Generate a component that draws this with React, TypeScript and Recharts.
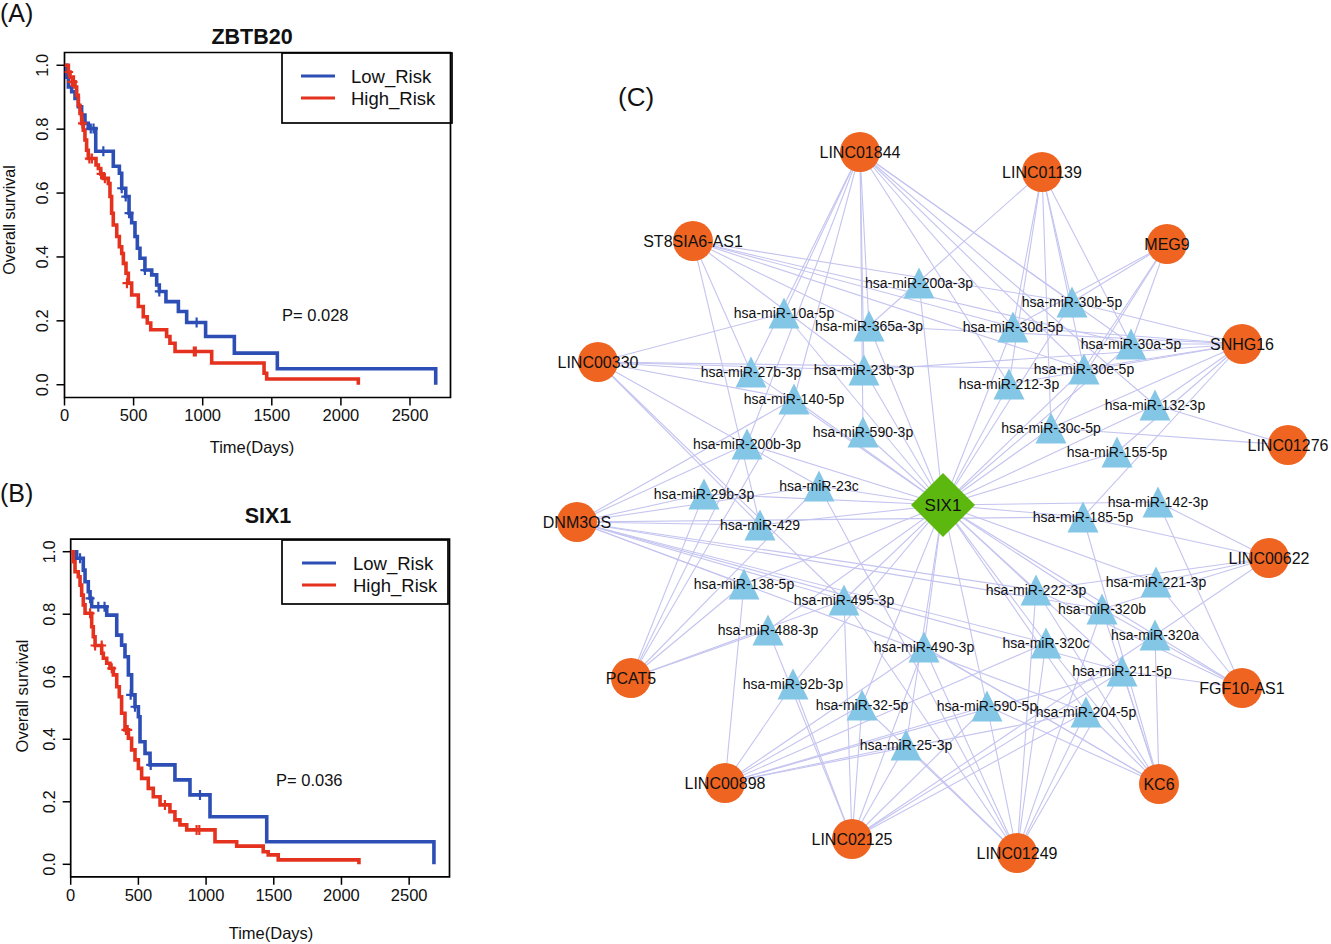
import React from 'react';
import { ComposedChart, ScatterChart, Line, Scatter, XAxis, YAxis, ReferenceArea } from 'recharts';

const FONT = '"Liberation Sans", Arial, Helvetica, sans-serif';
const BLUE = '#2C4EB5';
const RED = '#E4321F';
const ORANGE = '#EE6420';
const SKY = '#84C6E6';
const GREEN = '#5CB80F';
const EDGE = '#C4C4F0';

// ---------- Kaplan-Meier data ----------
const timeTicks = [0, 500, 1000, 1500, 2000, 2500];
const survTicks = [0, 0.2, 0.4, 0.6, 0.8, 1.0];

// (A) ZBTB20
const zbtbLowT = [0, 16, 28, 52, 76, 100, 124, 148, 172, 226, 353, 397, 414, 443, 467, 486, 510, 527, 546, 582, 631, 667, 686, 734, 824, 884, 1021, 1229, 1540, 2686];
const zbtbLowS = [1.0, 0.963, 0.932, 0.917, 0.896, 0.87, 0.844, 0.818, 0.802, 0.731, 0.684, 0.662, 0.615, 0.589, 0.537, 0.507, 0.464, 0.427, 0.396, 0.359, 0.344, 0.312, 0.292, 0.26, 0.229, 0.195, 0.151, 0.099, 0.05, 0.0];
const zbtbLowCensT = [190, 210, 281, 414, 443, 467, 582, 686, 956];
const zbtbLowCensS = [0.802, 0.802, 0.731, 0.615, 0.589, 0.537, 0.359, 0.292, 0.195];
const zbtbHighT = [0, 28, 40, 64, 76, 88, 100, 112, 124, 136, 148, 160, 172, 228, 245, 262, 281, 317, 329, 341, 353, 378, 397, 414, 426, 445, 462, 486, 534, 570, 599, 624, 739, 763, 800, 1065, 1444, 1463, 2126];
const zbtbHighS = [1.0, 0.979, 0.963, 0.948, 0.932, 0.906, 0.875, 0.849, 0.818, 0.797, 0.766, 0.734, 0.708, 0.688, 0.677, 0.66, 0.646, 0.63, 0.589, 0.537, 0.5, 0.464, 0.432, 0.411, 0.38, 0.349, 0.318, 0.281, 0.245, 0.213, 0.193, 0.172, 0.151, 0.13, 0.104, 0.068, 0.036, 0.018, 0.0];
const zbtbHighCensT = [30, 52, 62, 130, 180, 198, 265, 292, 452, 936, 950];
const zbtbHighCensS = [0.979, 0.948, 0.948, 0.818, 0.708, 0.708, 0.66, 0.646, 0.318, 0.104, 0.104];

// (B) SIX1
const sixLowT = [0, 44, 93, 106, 130, 143, 155, 266, 340, 376, 401, 426, 450, 475, 500, 512, 549, 586, 770, 881, 1029, 1448, 2683];
const sixLowS = [1.0, 0.979, 0.941, 0.904, 0.872, 0.851, 0.824, 0.797, 0.733, 0.701, 0.664, 0.606, 0.542, 0.504, 0.472, 0.392, 0.355, 0.318, 0.27, 0.222, 0.152, 0.072, 0.0];
const sixLowCensT = [69, 143, 204, 250, 443, 475, 591, 955];
const sixLowCensS = [0.979, 0.851, 0.824, 0.824, 0.542, 0.504, 0.318, 0.222];
const sixHighT = [0, 19, 32, 56, 69, 81, 93, 106, 155, 167, 180, 229, 241, 266, 290, 315, 340, 359, 376, 401, 426, 450, 475, 500, 524, 573, 610, 660, 733, 770, 807, 857, 1066, 1226, 1422, 1459, 1533, 2129];
const sixHighS = [1.0, 0.968, 0.936, 0.92, 0.893, 0.861, 0.83, 0.803, 0.76, 0.728, 0.7, 0.675, 0.659, 0.643, 0.627, 0.606, 0.568, 0.536, 0.483, 0.43, 0.403, 0.366, 0.334, 0.307, 0.275, 0.243, 0.216, 0.19, 0.168, 0.142, 0.126, 0.11, 0.072, 0.058, 0.04, 0.03, 0.014, 0.0];
const sixHighCensT = [143, 180, 229, 303, 408, 421, 696, 930, 950];
const sixHighCensS = [0.803, 0.7, 0.7, 0.627, 0.43, 0.43, 0.19, 0.11, 0.11];

// ---------- Network data ----------
const lncNames = ['LINC01844', 'ST8SIA6-AS1', 'LINC00330', 'DNM3OS', 'PCAT5', 'LINC00898', 'LINC02125', 'LINC01249', 'KC6', 'FGF10-AS1', 'LINC00622', 'LINC01276', 'SNHG16', 'MEG9', 'LINC01139'];
const lncX = [860, 693, 598, 577, 631, 725, 852, 1017, 1159, 1242, 1269, 1288, 1242, 1167, 1042];
const lncY = [152, 241, 362, 522, 678, 783, 839, 853, 784, 688, 558, 445, 344, 244, 172];

const mirNames = ['hsa-miR-10a-5p', 'hsa-miR-365a-3p', 'hsa-miR-200a-3p', 'hsa-miR-27b-3p', 'hsa-miR-23b-3p', 'hsa-miR-140-5p', 'hsa-miR-590-3p', 'hsa-miR-200b-3p', 'hsa-miR-29b-3p', 'hsa-miR-23c', 'hsa-miR-429', 'hsa-miR-138-5p', 'hsa-miR-495-3p', 'hsa-miR-488-3p', 'hsa-miR-92b-3p', 'hsa-miR-32-5p', 'hsa-miR-25-3p', 'hsa-miR-490-3p', 'hsa-miR-590-5p', 'hsa-miR-204-5p', 'hsa-miR-320c', 'hsa-miR-211-5p', 'hsa-miR-222-3p', 'hsa-miR-320b', 'hsa-miR-221-3p', 'hsa-miR-320a', 'hsa-miR-185-5p', 'hsa-miR-142-3p', 'hsa-miR-30b-5p', 'hsa-miR-30d-5p', 'hsa-miR-30a-5p', 'hsa-miR-30e-5p', 'hsa-miR-212-3p', 'hsa-miR-132-3p', 'hsa-miR-30c-5p', 'hsa-miR-155-5p'];
const mirX = [784, 869, 919, 751, 864, 794, 863, 747, 704, 819, 760, 744, 844, 768, 793, 862, 906, 924, 987, 1086, 1046, 1122, 1036, 1102, 1156, 1155, 1083, 1158, 1072, 1013, 1131, 1084, 1009, 1155, 1051, 1117];
const mirY = [313, 326, 283, 372, 370, 399, 432, 444, 494, 486, 525, 584, 600, 630, 684, 705, 745, 647, 706, 712, 643, 671, 590, 609, 582, 635, 517, 502, 302, 327, 344, 369, 384, 405, 428, 452];

const hubName = 'SIX1';
const hubX = 943;
const hubY = 505;

// lncRNA -> miRNA targets (short miRNA ids)
const targetsLINC01844 = ['10a-5p', '27b-3p', '140-5p', '200b-3p', '365a-3p', '23b-3p', '590-3p', '30d-5p', '30b-5p', '30a-5p', '30e-5p', '212-3p', '132-3p'];
const targetsST8SIA6 = ['27b-3p', '429', '365a-3p', '23b-3p', '30d-5p', '30b-5p', '30a-5p', '30e-5p'];
const targetsLINC00330 = ['10a-5p', '27b-3p', '140-5p', '23b-3p', '30e-5p', '23c', '429', '495-3p'];
const targetsDNM3OS = ['29b-3p', '200b-3p', '140-5p', '23c', '429', '138-5p', '495-3p', '222-3p', '320b', '320c', '185-5p', '211-5p', '204-5p'];
const targetsPCAT5 = ['200b-3p', '140-5p', '29b-3p', '138-5p', '488-3p', '495-3p', '23c'];
const targetsLINC00898 = ['138-5p', '92b-3p', '32-5p', '25-3p', '490-3p', '590-5p', '320c', '204-5p', '211-5p'];
const targetsLINC02125 = ['92b-3p', '488-3p', '32-5p', '495-3p', '25-3p', '490-3p', '590-5p', '204-5p', '211-5p', '320a'];
const targetsLINC01249 = ['23c', '495-3p', '490-3p', '25-3p', '32-5p', '590-5p', '320c', '222-3p', '204-5p', '211-5p', '320b'];
const targetsKC6 = ['204-5p', '211-5p', '320a', '320b', '320c', '222-3p', '590-5p', '490-3p', '185-5p', '495-3p'];
const targetsFGF10AS1 = ['142-3p', '221-3p', '320a', '320b', '211-5p', '222-3p'];
const targetsLINC00622 = ['142-3p', '221-3p', '222-3p', '320b', '320a', '185-5p'];
const targetsLINC01276 = ['132-3p', '30c-5p'];
const targetsSNHG16 = ['30a-5p', '30b-5p', '30d-5p', '30e-5p', '212-3p', '30c-5p', '132-3p', '155-5p', '23b-3p', '365a-3p', '185-5p'];
const targetsMEG9 = ['30b-5p', '30d-5p', '30a-5p', '30e-5p', '30c-5p'];
const targetsLINC01139 = ['365a-3p', '212-3p', '30d-5p', '30c-5p', '30b-5p', '30e-5p', '30a-5p'];
const lncTargets = [targetsLINC01844, targetsST8SIA6, targetsLINC00330, targetsDNM3OS, targetsPCAT5, targetsLINC00898, targetsLINC02125, targetsLINC01249, targetsKC6, targetsFGF10AS1, targetsLINC00622, targetsLINC01276, targetsSNHG16, targetsMEG9, targetsLINC01139];

// ---------- helpers ----------
const toRows = (t: number[], s: number[]) => t.map((v, i) => ({ t: v, s: s[i] }));

const XTick = (props: any) => {
  const { x, y, payload } = props;
  return (
    <text x={x} y={y} dy="0.71em" textAnchor="middle" fontSize={16.5} fontFamily={FONT} fill="#111">
      {payload.value}
    </text>
  );
};

const YTick = (props: any) => {
  const { x, y, payload } = props;
  return (
    <text x={x} y={y} transform={`rotate(-90 ${x} ${y})`} textAnchor="middle" fontSize={16.5} fontFamily={FONT} fill="#111">
      {Number(payload.value).toFixed(1)}
    </text>
  );
};

const plusShape = (color: string) => (p: any) => (
  <path d={`M${p.cx - 4.5},${p.cy}h9M${p.cx},${p.cy - 5}v10`} stroke={color} strokeWidth={2.2} fill="none" />
);

type KMProps = {
  left: number; top: number; width: number; height: number;
  margin: { top: number; right: number; bottom: number; left: number };
  xMax: number;
  lowT: number[]; lowS: number[]; highT: number[]; highS: number[];
  lowCT: number[]; lowCS: number[]; highCT: number[]; highCS: number[];
};

function KMPanel(pr: KMProps) {
  const low = toRows(pr.lowT, pr.lowS);
  const high = toRows(pr.highT, pr.highS);
  const lowC = toRows(pr.lowCT, pr.lowCS);
  const highC = toRows(pr.highCT, pr.highCS);
  return (
    <div style={{ position: 'absolute', left: pr.left, top: pr.top }}>
      <ComposedChart width={pr.width} height={pr.height} margin={pr.margin}>
        <XAxis dataKey="t" type="number" domain={[0, pr.xMax]} ticks={timeTicks} interval={0} allowDataOverflow
          axisLine={false} tickLine={{ stroke: '#000', strokeWidth: 1.5 }} tickSize={8} tickMargin={4} tick={XTick} height={40} />
        <YAxis dataKey="s" type="number" domain={[-0.04, 1.04]} ticks={survTicks} interval={0} allowDataOverflow
          axisLine={false} tickLine={{ stroke: '#000', strokeWidth: 1.5 }} tickSize={8} tickMargin={8} tick={YTick} width={40} />
        <ReferenceArea x1={0} x2={pr.xMax} y1={-0.04} y2={1.04} fill="none" fillOpacity={0} stroke="#000" strokeWidth={1.7} ifOverflow="visible" />
        <Line data={low} dataKey="s" type="stepAfter" stroke={BLUE} strokeWidth={3.6} dot={false} isAnimationActive={false} />
        <Line data={high} dataKey="s" type="stepAfter" stroke={RED} strokeWidth={3.6} dot={false} isAnimationActive={false} />
        <Scatter data={lowC} dataKey="s" shape={plusShape(BLUE)} isAnimationActive={false} />
        <Scatter data={highC} dataKey="s" shape={plusShape(RED)} isAnimationActive={false} />
      </ComposedChart>
    </div>
  );
}

// ---------- network ----------
const nothing = () => <g />;
const circleShape = (p: any) => <circle cx={p.cx} cy={p.cy} r={20} fill={ORANGE} />;
const triShape = (p: any) => (
  <polygon points={`${p.cx},${p.cy - 15.5} ${p.cx - 15.5},${p.cy + 15.5} ${p.cx + 15.5},${p.cy + 15.5}`} fill={SKY} />
);
const diamondShape = (p: any) => (
  <polygon points={`${p.cx},${p.cy - 32} ${p.cx + 32},${p.cy} ${p.cx},${p.cy + 32} ${p.cx - 32},${p.cy}`} fill={GREEN} />
);
const labelShape = (size: number) => (p: any) => (
  <text x={p.cx} y={p.cy} dy="0.36em" textAnchor="middle" fontSize={size} fontFamily={FONT} fill="#111">
    {p.payload.name}
  </text>
);

function Network() {
  const lncNodes = lncNames.map((n, i) => ({ name: n, x: lncX[i], y: lncY[i] }));
  const mirNodes = mirNames.map((n, i) => ({ name: n, x: mirX[i], y: mirY[i] }));
  const hub = [{ name: hubName, x: hubX, y: hubY }];
  const mirIndex: Record<string, number> = {};
  mirNames.forEach((n, i) => { mirIndex[n.replace('hsa-miR-', '')] = i; });
  const edges: { a: any; b: any }[] = [];
  mirNodes.forEach((m) => edges.push({ a: hub[0], b: m }));
  lncTargets.forEach((ts, li) => {
    ts.forEach((t) => {
      const mi = mirIndex[t];
      if (mi !== undefined) edges.push({ a: lncNodes[li], b: mirNodes[mi] });
    });
  });
  return (
    <div style={{ position: 'absolute', left: 520, top: 60 }}>
      <ScatterChart width={811} height={884} margin={{ top: 0, right: 0, bottom: 0, left: 0 }}>
        <XAxis dataKey="x" type="number" domain={[520, 1331]} hide height={0} allowDataOverflow />
        <YAxis dataKey="y" type="number" domain={[60, 944]} reversed hide width={0} allowDataOverflow />
        {edges.map((e, i) => (
          <Scatter key={'e' + i} data={[e.a, e.b]} line={{ stroke: EDGE, strokeWidth: 1.1 }} lineType="joint" shape={nothing} isAnimationActive={false} />
        ))}
        <Scatter data={lncNodes} shape={circleShape} isAnimationActive={false} />
        <Scatter data={mirNodes} shape={triShape} isAnimationActive={false} />
        <Scatter data={hub} shape={diamondShape} isAnimationActive={false} />
        <Scatter data={mirNodes} shape={labelShape(14)} isAnimationActive={false} />
        <Scatter data={lncNodes} shape={labelShape(16)} isAnimationActive={false} />
        <Scatter data={hub} shape={labelShape(17)} isAnimationActive={false} />
      </ScatterChart>
    </div>
  );
}

function Legend({ x, y, w, h, lineX, y1, y2, textX, b1, b2 }: any) {
  return (
    <g fontFamily={FONT} fontSize={18.5} fill="#111">
      <rect x={x} y={y} width={w} height={h} fill="none" stroke="#000" strokeWidth={1.7} />
      <line x1={lineX} x2={lineX + 34} y1={y1} y2={y1} stroke={BLUE} strokeWidth={3} />
      <line x1={lineX} x2={lineX + 34} y1={y2} y2={y2} stroke={RED} strokeWidth={3} />
      <text x={textX} y={b1}>Low_Risk</text>
      <text x={textX} y={b2}>High_Risk</text>
    </g>
  );
}

export default function App() {
  return (
    <div style={{ position: 'absolute', left: 0, top: 0, width: 1331, height: 944, background: '#fff', overflow: 'hidden' }}>
      <KMPanel left={0} top={0} width={460} height={470}
        margin={{ top: 52.5, right: 9.5, bottom: 32.5, left: 24.5 }} xMax={2793}
        lowT={zbtbLowT} lowS={zbtbLowS} highT={zbtbHighT} highS={zbtbHighS}
        lowCT={zbtbLowCensT} lowCS={zbtbLowCensS} highCT={zbtbHighCensT} highCS={zbtbHighCensS} />
      <KMPanel left={0} top={480} width={460} height={464}
        margin={{ top: 59.2, right: 10.5, bottom: 27.2, left: 30.7 }} xMax={2798}
        lowT={sixLowT} lowS={sixLowS} highT={sixHighT} highS={sixHighS}
        lowCT={sixLowCensT} lowCS={sixLowCensS} highCT={sixHighCensT} highCS={sixHighCensS} />
      <Network />
      <svg width={1331} height={944} style={{ position: 'absolute', left: 0, top: 0, pointerEvents: 'none' }}>
        <g fontFamily={FONT} fill="#111">
          <text x={0} y={22} fontSize={25}>(A)</text>
          <text x={0} y={502} fontSize={25}>(B)</text>
          <text x={618} y={106} fontSize={26}>(C)</text>
          <text x={252} y={44} fontSize={21.5} fontWeight="bold" textAnchor="middle">ZBTB20</text>
          <text x={268} y={523} fontSize={21.5} fontWeight="bold" textAnchor="middle">SIX1</text>
          <text x={14.5} y={220} fontSize={16} textAnchor="middle" transform="rotate(-90 14.5 220)">Overall survival</text>
          <text x={28} y={696} fontSize={16.5} textAnchor="middle" transform="rotate(-90 28 696)">Overall survival</text>
          <text x={252} y={453} fontSize={16.5} textAnchor="middle">Time(Days)</text>
          <text x={271} y={939} fontSize={16.5} textAnchor="middle">Time(Days)</text>
          <text x={282} y={321} fontSize={16.5}>P= 0.028</text>
          <text x={276} y={786} fontSize={16.5}>P= 0.036</text>
        </g>
        <Legend x={282} y={53} w={170} h={70} lineX={301} y1={76} y2={98} textX={351} b1={83} b2={105} />
        <Legend x={282} y={540} w={166} h={64} lineX={302} y1={563} y2={585} textX={353} b1={570} b2={592} />
      </svg>
    </div>
  );
}
